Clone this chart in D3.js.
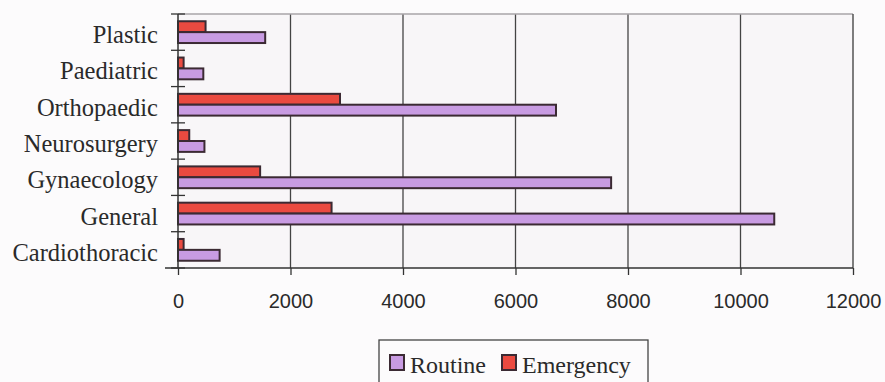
<!DOCTYPE html>
<html>
<head>
<meta charset="utf-8">
<script src="https://cdn.jsdelivr.net/npm/d3@7"></script>
<style>
  html, body { margin: 0; padding: 0; background: #fcfbfc; }
  svg { display: block; }
</style>
</head>
<body>
<svg id="chart" width="885" height="382"></svg>
<script>
// Surgical specialties, listed top to bottom
const categories = ["Plastic", "Paediatric", "Orthopaedic", "Neurosurgery", "Gynaecology", "General", "Cardiothoracic"];
const routine    = [1550, 450, 6720, 470, 7700, 10600, 740];
const emergency  = [490, 100, 2880, 200, 1460, 2730, 100];
const xTicks     = [0, 2000, 4000, 6000, 8000, 10000, 12000];
const seriesNames = ["Emergency", "Routine"];
const legendOrder = ["Routine", "Emergency"];
const colors = { Routine: "#c89be2", Emergency: "#ea4a40" };

const svg = d3.select("#chart");
const plot = { left: 178, right: 853, top: 14, bottom: 268 };

const x = d3.scaleLinear().domain([0, 12000]).range([plot.left, plot.right]);
const y = d3.scaleBand().domain(categories).range([plot.top, plot.bottom])
  .paddingInner(0.4).paddingOuter(0.2);
const ySub = d3.scaleBand().domain(seriesNames).range([0, y.bandwidth()]);

const rows = categories.map((c, i) => ({ cat: c, Routine: routine[i], Emergency: emergency[i] }));

// plot background
svg.append("rect")
  .attr("x", plot.left).attr("y", plot.top)
  .attr("width", plot.right - plot.left).attr("height", plot.bottom - plot.top)
  .attr("fill", "#f8f6f8");

// vertical gridlines
svg.append("g").selectAll("line")
  .data(xTicks.slice(1, -1))
  .join("line")
  .attr("x1", d => x(d)).attr("x2", d => x(d))
  .attr("y1", plot.top).attr("y2", plot.bottom)
  .attr("stroke", "#444").attr("stroke-width", 1.3);

// frame: top (light) and right
svg.append("line")
  .attr("x1", plot.left).attr("x2", plot.right)
  .attr("y1", plot.top).attr("y2", plot.top)
  .attr("stroke", "#a8a4a8").attr("stroke-width", 1.3);
svg.append("line")
  .attr("x1", plot.right).attr("x2", plot.right)
  .attr("y1", plot.top).attr("y2", plot.bottom)
  .attr("stroke", "#555").attr("stroke-width", 1.5);

// bars
const groups = svg.append("g").selectAll("g")
  .data(rows)
  .join("g")
  .attr("transform", d => `translate(0,${y(d.cat)})`);

groups.selectAll("rect")
  .data(d => seriesNames.map(s => ({ s, v: d[s] })))
  .join("rect")
  .attr("x", x(0))
  .attr("y", d => ySub(d.s))
  .attr("width", d => x(d.v) - x(0))
  .attr("height", ySub.bandwidth())
  .attr("fill", d => colors[d.s])
  .attr("stroke", "#3b2a33")
  .attr("stroke-width", 2);

// x axis
const xAxis = d3.axisBottom(x).tickValues(xTicks).tickSize(7).tickPadding(0).tickFormat(d3.format("d"));
const gx = svg.append("g").attr("transform", `translate(0,${plot.bottom})`).call(xAxis);
gx.select(".domain").remove();
gx.append("line").attr("x1", 165).attr("x2", plot.right).attr("y1", 0).attr("y2", 0)
  .attr("stroke", "#333").attr("stroke-width", 1.5);
gx.selectAll(".tick line").attr("stroke", "#333").attr("stroke-width", 1.3);
gx.selectAll(".tick text")
  .attr("y", 40).attr("dy", 0)
  .attr("fill", "#2a2a2a")
  .style("font-family", "'Liberation Sans', Arial, sans-serif")
  .style("font-size", "20px");

// y axis
const yAxis = d3.axisLeft(y).tickSize(0).tickPadding(0);
const gy = svg.append("g").attr("transform", `translate(${plot.left},0)`).call(yAxis);
gy.select(".domain").remove();
gy.append("line").attr("x1", 0).attr("x2", 0).attr("y1", plot.top).attr("y2", plot.bottom)
  .attr("stroke", "#333").attr("stroke-width", 1.5);
gy.selectAll(".tick text")
  .attr("x", -20).attr("dy", 11)
  .attr("fill", "#2a2a2a")
  .style("font-family", "'Liberation Serif', 'Times New Roman', serif")
  .style("font-size", "24.5px");

// category separators crossing the axis
const step = (plot.bottom - plot.top) / categories.length;
gy.append("g").selectAll("line")
  .data(d3.range(categories.length + 1))
  .join("line")
  .attr("x1", -7).attr("x2", 7)
  .attr("y1", i => plot.top + i * step).attr("y2", i => plot.top + i * step)
  .attr("stroke", "#333").attr("stroke-width", 1.3);

// legend
const lg = svg.append("g");
lg.append("rect").attr("x", 379).attr("y", 340).attr("width", 269).attr("height", 60)
  .attr("fill", "none").attr("stroke", "#444").attr("stroke-width", 1.3);
const items = [
  { name: "Routine", sx: 390, tx: 410 },
  { name: "Emergency", sx: 502, tx: 522 }
];
items.forEach(it => {
  lg.append("rect").attr("x", it.sx).attr("y", 355).attr("width", 14).attr("height", 15)
    .attr("fill", colors[it.name]).attr("stroke", "#3b2a33").attr("stroke-width", 2);
  lg.append("text").attr("x", it.tx).attr("y", 373).text(it.name)
    .attr("fill", "#2a2a2a")
    .style("font-family", "'Liberation Serif', 'Times New Roman', serif")
    .style("font-size", "24px");
});
</script>
</body>
</html>
